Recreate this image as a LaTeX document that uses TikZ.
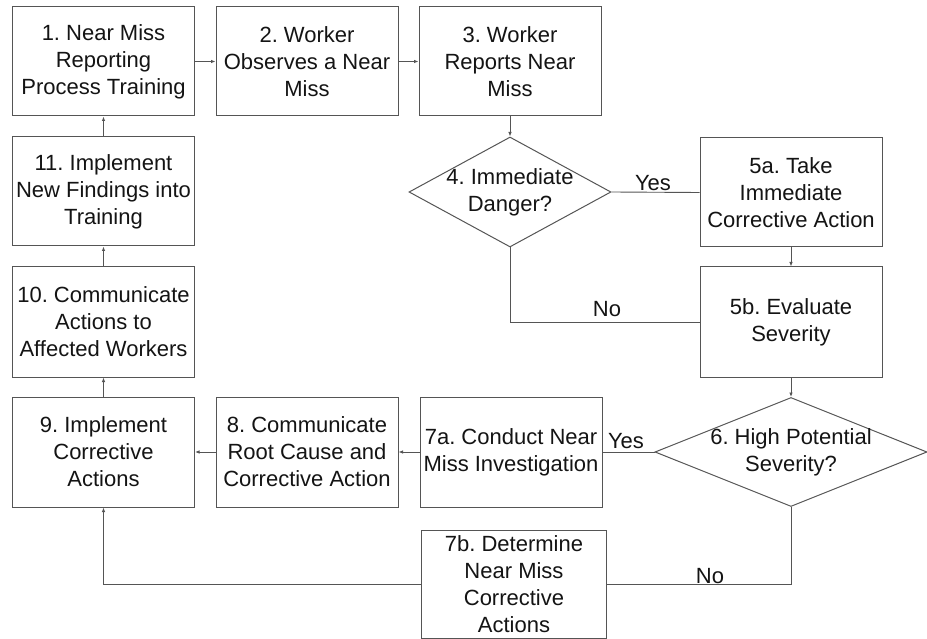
\documentclass[tikz,border=0pt]{standalone}
\usepackage{fontspec}
\setmainfont{Liberation Sans}
\usetikzlibrary{shapes.geometric,arrows.meta}
\definecolor{linec}{RGB}{85,85,85}
\definecolor{textc}{RGB}{20,20,20}
\frenchspacing
\begin{document}
\begin{tikzpicture}[x=1pt,y=-1pt,
  tfont/.style={font=\fontsize{22}{27}\selectfont\frenchspacing, text=textc},
  box/.style={draw=linec, line width=1pt, minimum width=182pt, minimum height=109pt, inner sep=0pt, align=center, tfont},
  dia/.style={draw=linec, line width=1pt, diamond, inner sep=0pt},
  txt/.style={align=center, inner sep=0pt, tfont},
  lab/.style={inner sep=0pt, tfont},
  ln/.style={draw=linec, line width=0.9pt},
  arr/.style={ln, -{Latex[length=4.5pt,width=3.5pt]}}]
\fill[white] (0,0) rectangle (927,639);
\useasboundingbox (0,0) rectangle (927,639);

\node[box] (b1) at (103.5,61.5) {1. Near Miss\\Reporting\\Process Training};
\node[box] (b2) at (307,61.5) {2. Worker\\Observes a Near\\Miss};
\node[box] (b3) at (510,61.5) {3. Worker\\Reports Near\\Miss};
\node[dia, minimum width=202pt, minimum height=110pt] (d4) at (510,192) {};
\node[txt] (t4) at (d4) {4. Immediate\\Danger?};
\node[box] (b5a) at (791,192.5) {5a. Take\\Immediate\\Corrective Action};
\node[box, minimum height=110pt] (b5b) at (791,322) {5b. Evaluate\\Severity};
\node[dia, minimum width=272pt, minimum height=109pt] (d6) at (791,452) {};
\node[txt] (t6) at (d6) {6. High Potential\\Severity?};
\node[box, minimum height=110pt] (b7a) at (511,452) {7a. Conduct Near\\Miss Investigation};
\node[box, minimum height=110pt] (b8) at (307,452) {8. Communicate\\Root Cause and\\Corrective Action};
\node[box, minimum height=110pt] (b9) at (103.5,452) {9. Implement\\Corrective\\Actions};
\node[box, minimum height=110pt] (b10) at (103.5,322) {10. Communicate\\Actions to\\Affected Workers};
\node[box] (b11) at (103.5,191.5) {11. Implement\\New Findings into\\Training};
\node[box, minimum width=185pt, minimum height=108pt] (b7b) at (514,584) {7b. Determine\\Near Miss\\Corrective\\Actions};

\draw[arr] (b1.east) -- (b2.west);
\draw[arr] (b2.east) -- (b3.west);
\draw[arr] (b3.south) -- (d4.north);
\draw[ln] (d4.east) -- (b5a.west);
\draw[arr] (b5a.south) -- (b5b.north);
\draw[ln] (d4.south) |- (b5b.west);
\draw[arr] (b5b.south) -- (d6.north);
\draw[ln] (d6.west) -- (b7a.east);
\draw[arr] (b7a.west) -- (b8.east);
\draw[arr] (b8.west) -- (b9.east);
\draw[ln] (d6.south) |- (b7b.east);
\draw[arr] (b7b.west) -| (b9.south);
\draw[arr] (b9.north) -- (b10.south);
\draw[arr] (b10.north) -- (b11.south);
\draw[arr] (b11.north) -- (b1.south);

\node[lab] (yes1) at (653,183) {Yes};
\node[lab] (no1) at (607,309) {No};
\node[lab] (yes2) at (626,441) {Yes};
\node[lab] (no2) at (710,576) {No};
\end{tikzpicture}
\end{document}
